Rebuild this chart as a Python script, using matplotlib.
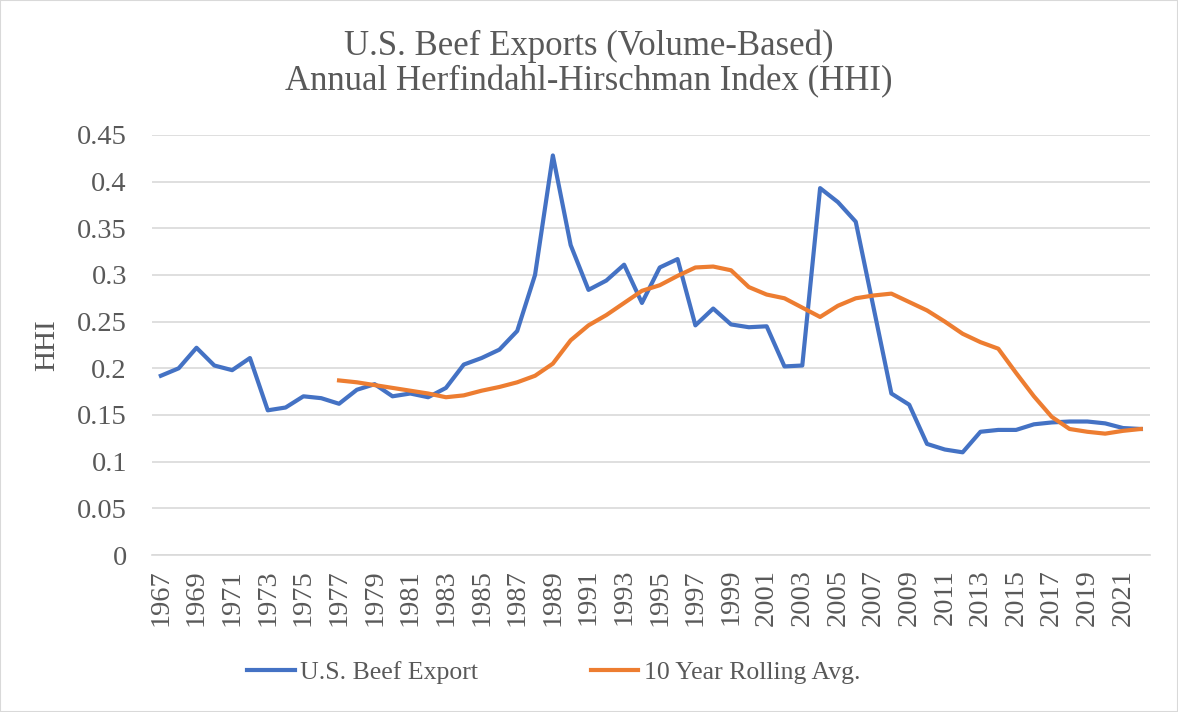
"""
U.S. beef exports HHI with 10 year rolling average
"""

### Import modules
import numpy as np
import matplotlib.pyplot as plt
from matplotlib.patches import Rectangle

### Data
years = np.arange(1967, 2022 + 1, 1)

hhi = [0.192, 0.200, 0.222, 0.203, 0.198, 0.211, 0.155, 0.158, 0.170, 0.168,
       0.162, 0.177, 0.183, 0.170, 0.173, 0.169, 0.179, 0.204, 0.211, 0.220,
       0.240, 0.300, 0.428, 0.332, 0.284, 0.294, 0.311, 0.270, 0.308, 0.317,
       0.246, 0.264, 0.247, 0.244, 0.245, 0.202, 0.203, 0.393, 0.378, 0.357,
       0.265, 0.173, 0.161, 0.119, 0.113, 0.110, 0.132, 0.134, 0.134, 0.140,
       0.142, 0.143, 0.143, 0.141, 0.136, 0.135]

rollyears = np.arange(1977, 2022 + 1, 1)
rolling = [0.187, 0.185, 0.182, 0.179, 0.176, 0.173, 0.169, 0.171, 0.176, 0.180,
           0.185, 0.192, 0.205, 0.230, 0.246, 0.257, 0.270, 0.283, 0.289, 0.299,
           0.308, 0.309, 0.305, 0.287, 0.279, 0.275, 0.265, 0.255, 0.267, 0.275,
           0.278, 0.280, 0.271, 0.262, 0.250, 0.237, 0.228, 0.221, 0.195, 0.170,
           0.148, 0.135, 0.132, 0.130, 0.133, 0.135]

yticks = np.arange(0, 0.451, 0.05)
yticklabels = ['0', '0.05', '0.1', '0.15', '0.2', '0.25', '0.3', '0.35', '0.4', '0.45']

###############################################################################
### Plot figure
plt.rc('font', family='Liberation Serif')

fig = plt.figure(figsize=(11.78, 7.12), dpi=100)
ax = fig.add_axes([0.129, 0.2205, 0.847, 0.59])

fig.patches.append(Rectangle((0, 0), 1, 1, transform=fig.transFigure,
                             fill=False, edgecolor='#d9d9d9', linewidth=1.5))

ax.plot(years, hhi, color='#4472C4', linewidth=3, solid_joinstyle='round',
        label='U.S. Beef Export', zorder=3)
ax.plot(rollyears, rolling, color='#ED7D31', linewidth=3, solid_joinstyle='round',
        label='10 Year Rolling Avg.', zorder=3)

ax.set_xlim(1966.5, 2022.5)
ax.set_xticks(years[::2])
ax.set_xticklabels([str(y) for y in years[::2]], rotation=90, fontsize=20.5,
                   color='#595959')
ax.set_ylim(0, 0.45)
ax.set_yticks(yticks)
ax.set_yticklabels(yticklabels, fontsize=20.5, color='#595959')
ax.tick_params('x', length=0, pad=10)
ax.tick_params('y', length=0, pad=18)

ax.yaxis.grid(True, color='#d9d9d9', linewidth=1.2, zorder=1)
for loc in ['top', 'right', 'left']:
    ax.spines[loc].set_visible(False)
ax.spines['bottom'].set_color('#d9d9d9')
ax.spines['bottom'].set_linewidth(1.2)

ax.set_ylabel('HHI', fontsize=21, color='#595959', labelpad=12)

fig.text(0.5, 0.91, 'U.S. Beef Exports (Volume-Based)\nAnnual Herfindahl-Hirschman Index (HHI)',
         ha='center', va='center', fontsize=25, color='#595959', linespacing=1.1)

le = fig.legend(loc='center', bbox_to_anchor=(0.47, 0.056), ncol=2, frameon=False,
                fontsize=18.5, handlelength=1.85, handletextpad=0.2, columnspacing=4.4)
for text in le.get_texts():
    text.set_color('#595959')

plt.savefig('out.png', dpi=100)
